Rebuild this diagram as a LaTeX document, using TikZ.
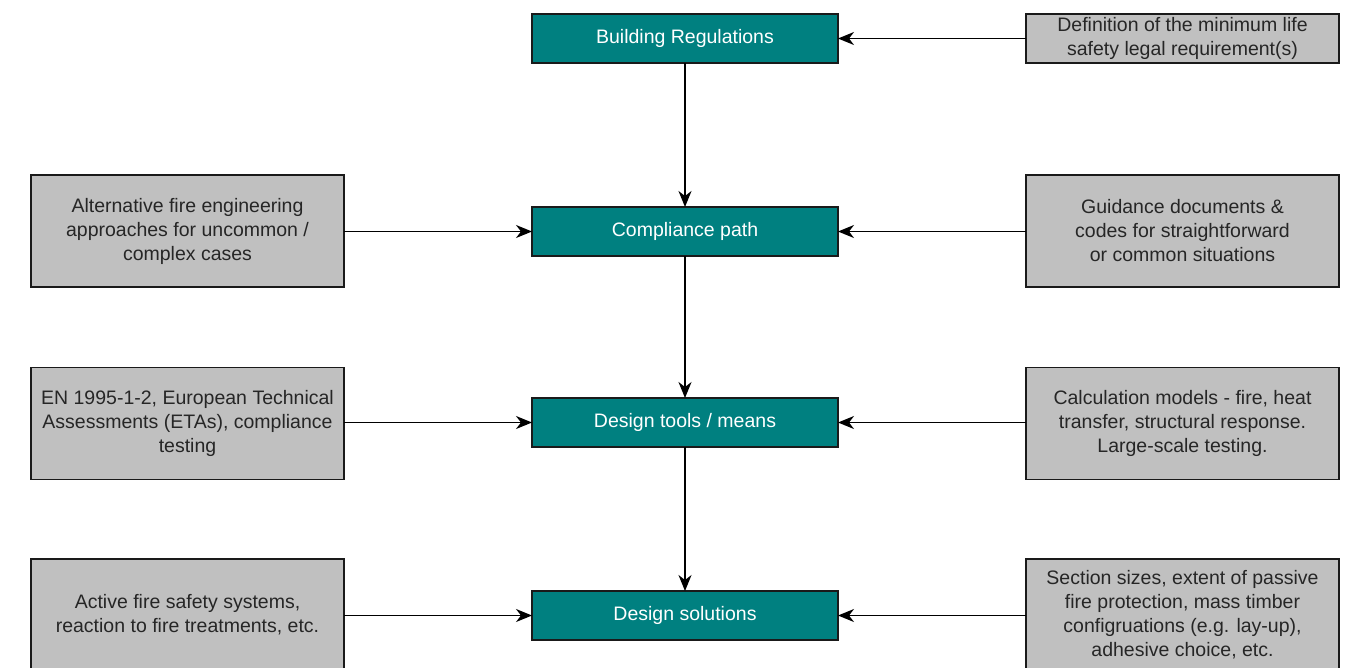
\documentclass[tikz,border=0pt]{standalone}
\usepackage{fontspec}
\setmainfont{Liberation Sans}
\usetikzlibrary{arrows.meta}
\definecolor{tealbox}{HTML}{008080}
\definecolor{graybox}{HTML}{C0C0C0}
\definecolor{edge}{HTML}{1A1A1A}
\begin{document}
\begin{tikzpicture}[x=1pt,y=-1pt,
  every node/.style={inner sep=0pt,outer sep=0pt,align=center,font=\fontsize{19.5}{24}\selectfont},
  mainbox/.style={draw=edge,line width=1.1pt,fill=tealbox,text=white,minimum width=306pt,minimum height=49pt},
  sidebox/.style={draw=edge,line width=1.1pt,fill=graybox,text=black!85,minimum width=313pt,minimum height=112pt},
  smallside/.style={sidebox,minimum height=49pt},
  conn/.style={draw=black,line width=1.3pt,-{Stealth[length=16pt,width=13pt,inset=5pt]}}
]
\useasboundingbox (0,0) rectangle (1354,667);
\clip (0,0) rectangle (1354,667);
\node[mainbox] (br) at (685,38.5) {Building Regulations};
\node[mainbox] (cp) at (685,231.5) {Compliance path};
\node[mainbox] (dt) at (685,422.5) {Design tools / means};
\node[mainbox] (ds) at (685,615.5) {Design solutions};

\node[smallside] (def) at (1182.5,38.5) {Definition of the minimum life\\safety legal requirement(s)};
\node[sidebox] (alt) at (187.5,231) {Alternative fire engineering\\approaches for uncommon /\\complex cases};
\node[sidebox] (gui) at (1182.5,231) {Guidance documents \&\\codes for straightforward\\or common situations};
\node[sidebox] (en) at (187.5,423.5) {EN 1995-1-2, European Technical\\Assessments (ETAs), compliance\\testing};
\node[sidebox] (calc) at (1182.5,423.5) {Calculation models - fire, heat\\transfer, structural response.\\Large-scale testing.};
\node[sidebox] (act) at (187.5,615) {Active fire safety systems,\\reaction to fire treatments, etc.};
\node[sidebox] (sec) at (1182.5,615) {Section sizes, extent of passive\\fire protection, mass timber\\configruations (e.g. lay-up),\\adhesive choice, etc.};

\draw[conn] (br) -- (cp);
\draw[conn] (cp) -- (dt);
\draw[conn] (dt) -- (ds);
\draw[conn] (def) -- (br);
\draw[conn] (alt.east |- cp) -- (cp);
\draw[conn] (gui.west |- cp) -- (cp);
\draw[conn] (en.east |- dt) -- (dt);
\draw[conn] (calc.west |- dt) -- (dt);
\draw[conn] (act.east |- ds) -- (ds);
\draw[conn] (sec.west |- ds) -- (ds);
\end{tikzpicture}
\end{document}
